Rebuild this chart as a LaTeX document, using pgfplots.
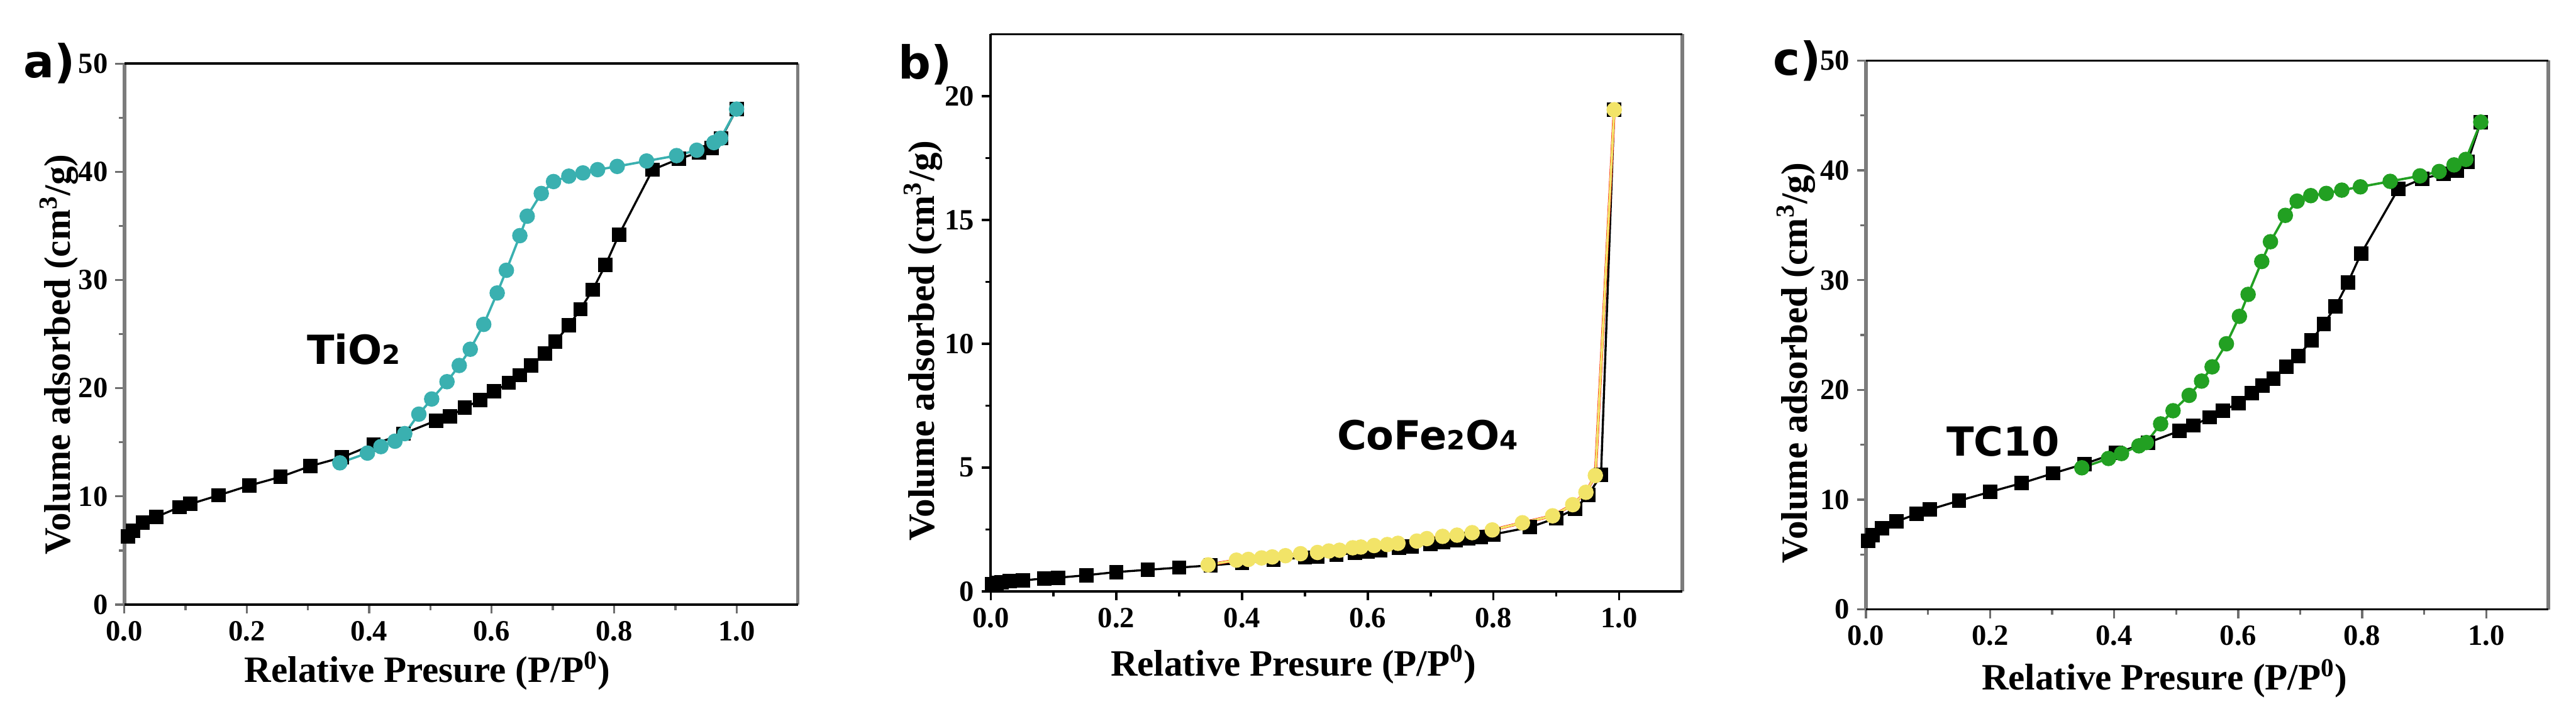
\documentclass[border=0pt]{standalone}
\usepackage{pgfplots}
\pgfplotsset{compat=1.18}
\usepackage{pgfplotstable}
\usepackage{fontspec}
\setmainfont{Liberation Serif}
\newfontfamily\samplefont{DejaVu Sans}

\definecolor{tealc}{HTML}{3AB0B0}
\definecolor{yellowc}{HTML}{F2E468}
\definecolor{greenc}{HTML}{22A022}
\definecolor{tickgray}{HTML}{6E6E6E}
\definecolor{framegray}{HTML}{7C7C7C}

\newcommand{\sub}[1]{{\fontsize{12.5}{12.5}\selectfont #1}}

% a) TiO2
\pgfplotstableread{
x y
0.006 6.3
0.014 6.8
0.030 7.6
0.052 8.1
0.090 9.0
0.108 9.3
0.154 10.1
0.204 11.0
0.255 11.8
0.304 12.8
0.355 13.6
0.407 14.8
0.456 15.8
0.509 17.0
0.532 17.4
0.556 18.2
0.581 18.9
0.604 19.7
0.628 20.5
0.646 21.2
0.664 22.1
0.687 23.2
0.704 24.3
0.726 25.8
0.745 27.3
0.765 29.1
0.786 31.4
0.808 34.2
0.863 40.2
0.906 41.2
0.939 41.8
0.959 42.2
0.975 43.1
1.000 45.8
}\adsA
\pgfplotstableread{
x y
1.000 45.8
0.974 43.1
0.963 42.7
0.935 42.0
0.902 41.5
0.853 41.0
0.805 40.5
0.773 40.2
0.749 39.9
0.726 39.6
0.701 39.1
0.681 38.0
0.658 35.9
0.646 34.1
0.624 30.9
0.609 28.8
0.587 25.9
0.565 23.6
0.547 22.1
0.527 20.6
0.502 19.0
0.481 17.6
0.458 15.8
0.442 15.1
0.419 14.6
0.397 14.0
0.352 13.1
}\desA

% b) CoFe2O4
\pgfplotstableread{
x y
0.002 0.28
0.009 0.33
0.017 0.37
0.030 0.41
0.051 0.44
0.085 0.52
0.107 0.55
0.152 0.65
0.200 0.78
0.250 0.87
0.300 0.96
0.350 1.05
0.400 1.15
0.450 1.27
0.500 1.37
0.520 1.41
0.550 1.48
0.580 1.55
0.600 1.61
0.620 1.67
0.650 1.75
0.670 1.82
0.700 1.92
0.720 1.99
0.740 2.06
0.760 2.13
0.780 2.20
0.800 2.30
0.858 2.59
0.900 2.96
0.930 3.33
0.951 3.90
0.971 4.70
0.992 19.45
}\adsB
\pgfplotstableread{
x y
0.992 19.45
0.962 4.68
0.947 4.00
0.926 3.50
0.894 3.05
0.846 2.77
0.798 2.48
0.766 2.37
0.742 2.27
0.719 2.22
0.694 2.13
0.678 2.03
0.648 1.94
0.631 1.89
0.610 1.85
0.589 1.79
0.576 1.76
0.555 1.66
0.538 1.63
0.520 1.57
0.493 1.52
0.469 1.44
0.448 1.39
0.431 1.35
0.410 1.29
0.391 1.26
0.346 1.07
}\desB

% c) TC10
\pgfplotstableread{
x y
0.004 6.25
0.011 6.75
0.026 7.4
0.049 8.0
0.082 8.7
0.103 9.1
0.150 9.9
0.200 10.7
0.251 11.5
0.302 12.4
0.352 13.25
0.403 14.25
0.455 15.2
0.505 16.25
0.528 16.75
0.554 17.5
0.575 18.1
0.601 18.8
0.622 19.7
0.639 20.4
0.657 21.0
0.678 22.1
0.697 23.1
0.718 24.5
0.738 26.0
0.757 27.6
0.777 29.8
0.798 32.4
0.858 38.3
0.897 39.25
0.931 39.7
0.953 40.0
0.970 40.8
0.991 44.4
}\adsC
\pgfplotstableread{
x y
0.991 44.4
0.967 41.0
0.948 40.5
0.924 39.9
0.893 39.5
0.845 39.0
0.797 38.5
0.767 38.2
0.742 37.9
0.717 37.7
0.695 37.2
0.676 35.9
0.652 33.5
0.638 31.7
0.616 28.7
0.602 26.7
0.581 24.2
0.558 22.1
0.541 20.8
0.521 19.5
0.495 18.1
0.475 16.9
0.452 15.2
0.440 14.9
0.412 14.2
0.391 13.75
0.348 12.9
}\desC

\pgfplotsset{
  bet/.style={
    scale only axis, clip=false, anchor=south west,
    axis line style={draw=none},
    xmin=0, xmax=1.1,
    xtick={0,0.2,0.4,0.6,0.8,1.0},
    minor xtick={0.1,0.3,0.5,0.7,0.9},
    xtick pos=bottom, ytick pos=left,
    tick align=outside,
    major tick length=0.15cm, minor tick length=0.09cm,
    every tick/.style={line width=1pt},
    tick label style={font=\fontsize{13.9}{16}\selectfont\bfseries},
    /pgf/number format/assume math mode=true,
    xticklabel style={/pgf/number format/.cd, fixed, fixed zerofill, precision=1},
    label style={font=\fontsize{17.6}{20}\selectfont\bfseries},
    xlabel={Relative Presure (P/P\textsuperscript{0})},
    ylabel={Volume adsorbed (cm\textsuperscript{3}/g)},
    ymin=0,
  },
  adsline/.style={black, line width=1pt, mark=square*, mark size=2.9pt,
    mark options={solid, fill=black}},
  desline/.style={#1, line width=1.1pt, mark=*, mark size=3.1pt,
    mark options={solid, fill=#1, draw=#1}},
}

\begin{document}
\begin{tikzpicture}
\useasboundingbox (0,0) rectangle (42.88,11.97);

% ---------- a) ----------
\begin{axis}[bet,
  at={(2.07cm,1.90cm)}, width=11.21cm, height=9.01cm,
  ymax=50, ytick={0,10,20,30,40,50}, minor ytick={5,15,25,35,45},
  every tick/.append style={tickgray},
  xlabel style={at={(axis description cs:0.450,-0.123)}, anchor=center},
  ylabel style={at={(axis description cs:-0.097,0.462)}, anchor=center},
]
  \addplot[adsline] table {\adsA};
  \addplot[desline=tealc] table {\desA};
  \draw[framegray, line width=1.7pt] (rel axis cs:0,0) -- (rel axis cs:0,1);
  \draw[framegray, line width=1.7pt] (rel axis cs:1,0) -- (rel axis cs:1,1);
  \draw[black, line width=1.15pt] (rel axis cs:0,1) -- (rel axis cs:1,1);
  \draw[black, line width=1.15pt] (rel axis cs:0,0) -- (rel axis cs:1,0);
  \node[font=\samplefont\bfseries\fontsize{19}{22}\selectfont] at (axis cs:0.375,23.6) {TiO\sub{2}};
  \node[font=\samplefont\bfseries\fontsize{21.6}{24}\selectfont] at (axis description cs:-0.111,1.0) {a)};
\end{axis}

% ---------- b) ----------
\begin{axis}[bet,
  at={(16.49cm,2.12cm)}, width=11.51cm, height=9.28cm,
  ymax=22.5, ytick={0,5,10,15,20}, minor ytick={2.5,7.5,12.5,17.5},
  every tick/.append style={black},
  xlabel style={at={(axis description cs:0.438,-0.131)}, anchor=center},
  ylabel style={at={(axis description cs:-0.098,0.450)}, anchor=center},
]
  \addplot[adsline] table {\adsB};
  \addplot[red, line width=1.4pt, no marks] table {\desB};
  \addplot[desline=yellowc] table {\desB};
  \draw[black, line width=1.15pt] (rel axis cs:0,0) -- (rel axis cs:0,1);
  \draw[framegray, line width=1.7pt] (rel axis cs:1,0) -- (rel axis cs:1,1);
  \draw[black, line width=1.15pt] (rel axis cs:0,1) -- (rel axis cs:1,1);
  \draw[black, line width=1.3pt] (rel axis cs:0,0) -- (rel axis cs:1,0);
  \node[font=\samplefont\bfseries\fontsize{19}{22}\selectfont] at (axis cs:0.695,6.3) {CoFe\sub{2}O\sub{4}};
  \node[font=\samplefont\bfseries\fontsize{21.6}{24}\selectfont] at (axis description cs:-0.095,0.946) {b)};
\end{axis}

% ---------- c) ----------
\begin{axis}[bet,
  at={(31.06cm,1.82cm)}, width=11.36cm, height=9.14cm,
  ymax=50, ytick={0,10,20,30,40,50}, minor ytick={5,15,25,35,45},
  every tick/.append style={tickgray},
  xlabel style={at={(axis description cs:0.4375,-0.126)}, anchor=center},
  ylabel style={at={(axis description cs:-0.102,0.449)}, anchor=center},
]
  \addplot[adsline] table {\adsC};
  \addplot[desline=greenc] table {\desC};
  \draw[framegray, line width=1.7pt] (rel axis cs:0,0) -- (rel axis cs:0,1);
  \draw[framegray, line width=1.7pt] (rel axis cs:1,0) -- (rel axis cs:1,1);
  \draw[black, line width=1.15pt] (rel axis cs:0,1) -- (rel axis cs:1,1);
  \draw[black, line width=1.15pt] (rel axis cs:0,0) -- (rel axis cs:1,0);
  \node[font=\samplefont\bfseries\fontsize{19}{22}\selectfont] at (axis cs:0.221,15.3) {TC10};
  \node[font=\samplefont\bfseries\fontsize{21.6}{24}\selectfont] at (axis description cs:-0.101,1.0) {c)};
\end{axis}
\end{tikzpicture}
\end{document}
